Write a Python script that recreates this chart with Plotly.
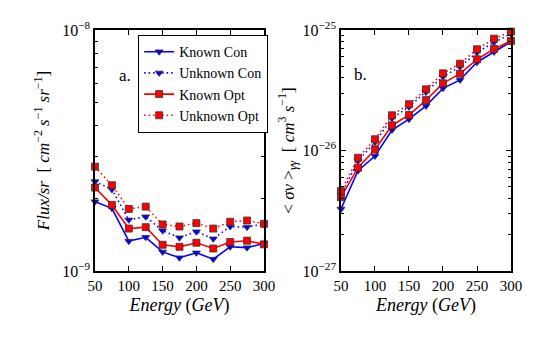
import plotly.graph_objects as go

energy = [50, 75, 100, 125, 150, 175, 200, 225, 250, 275, 300]

# panel a: flux / sr
flux_known_con = [1.94e-9, 1.82e-9, 1.33e-9, 1.38e-9, 1.20e-9, 1.135e-9, 1.19e-9, 1.12e-9, 1.26e-9, 1.25e-9, 1.30e-9]
flux_unknown_con = [2.35e-9, 2.18e-9, 1.63e-9, 1.68e-9, 1.47e-9, 1.375e-9, 1.456e-9, 1.36e-9, 1.53e-9, 1.52e-9, 1.57e-9]
flux_known_opt = [2.22e-9, 1.88e-9, 1.50e-9, 1.52e-9, 1.285e-9, 1.26e-9, 1.31e-9, 1.24e-9, 1.32e-9, 1.336e-9, 1.29e-9]
flux_unknown_opt = [2.71e-9, 2.27e-9, 1.81e-9, 1.85e-9, 1.56e-9, 1.53e-9, 1.58e-9, 1.50e-9, 1.60e-9, 1.62e-9, 1.57e-9]

# panel b: <sigma v>
sv_known_con = [3.27e-27, 6.8e-27, 9.0e-27, 1.48e-26, 1.82e-26, 2.34e-26, 3.28e-26, 3.85e-26, 5.4e-26, 6.57e-26, 8.0e-26]
sv_unknown_con = [4.3e-27, 8.2e-27, 1.17e-26, 1.85e-26, 2.3e-26, 3.05e-26, 4.1e-26, 4.95e-26, 6.5e-26, 7.9e-26, 9.3e-26]
sv_known_opt = [4.1e-27, 7.2e-27, 1.02e-26, 1.62e-26, 1.97e-26, 2.62e-26, 3.61e-26, 4.34e-26, 5.71e-26, 6.96e-26, 8.1e-26]
sv_unknown_opt = [4.6e-27, 8.7e-27, 1.24e-26, 1.96e-26, 2.42e-26, 3.22e-26, 4.37e-26, 5.25e-26, 6.92e-26, 8.47e-26, 9.7e-26]

FONT = "Liberation Serif"
DOT = "1.5px,3px"

styles = [
    ("Known Con", "#0000ff", "solid", "triangle-down"),
    ("Unknown Con", "#0000ff", DOT, "triangle-down"),
    ("Known Opt", "#ff0000", "solid", "square"),
    ("Unknown Opt", "#ff0000", DOT, "square"),
]

fig = go.Figure()

panel_a = [flux_known_con, flux_unknown_con, flux_known_opt, flux_unknown_opt]
panel_b = [sv_known_con, sv_unknown_con, sv_known_opt, sv_unknown_opt]

for (name, color, dash, symbol), ya, yb in zip(styles, panel_a, panel_b):
    for ys, xa, yax, show in [(ya, "x", "y", True), (yb, "x2", "y2", False)]:
        fig.add_trace(go.Scatter(
            x=energy, y=ys, xaxis=xa, yaxis=yax,
            mode="lines+markers", name=name, showlegend=show,
            line=dict(color=color, width=1.6, dash=dash),
            marker=dict(symbol=symbol, size=7, color=color,
                        line=dict(color="#333333", width=0.8)),
            cliponaxis=False,
        ))

def minor_vals(lo, hi):
    vals = []
    for e in range(lo, hi):
        for m in range(2, 10):
            vals.append(m * 10 ** e)
    return vals

xax = dict(
    range=[50, 300], tickvals=[50, 100, 150, 200, 250, 300],
    ticks="inside", ticklen=5, tickcolor="black", mirror="allticks",
    showline=True, linecolor="black", linewidth=1.5, showgrid=False, zeroline=False,
    automargin=False,
    tickfont=dict(family=FONT, size=15, color="black"),
    title=dict(text="<i>Energy</i> (<i>GeV</i>)", font=dict(family=FONT, size=18, color="black"), standoff=6),
)

fig.update_layout(
    template="none",
    width=554, height=342,
    margin=dict(l=0, r=0, t=0, b=0),
    paper_bgcolor="white", plot_bgcolor="white",
    font=dict(family=FONT, color="black"),
    xaxis=dict(domain=[0.1715, 0.4765], anchor="y", **xax),
    xaxis2=dict(domain=[0.6155, 0.9224], anchor="y2", **xax),
    yaxis=dict(
        type="log", range=[-9, -8], anchor="x",
        domain=[0.2076, 0.9123], automargin=False,
        tickvals=[1e-9, 1e-8], ticktext=["10<sup>−9</sup>", "10<sup>−8</sup>"],
        minor=dict(tickmode="array", tickvals=minor_vals(-9, -8), ticks="inside", ticklen=3, tickcolor="black"),
        ticks="inside", ticklen=5, tickcolor="black", mirror="allticks",
        showline=True, linecolor="black", linewidth=1.5, showgrid=False,
        tickfont=dict(family=FONT, size=16, color="black"),
        title=dict(text="<i>Flux/sr</i>  [ <i>cm</i><sup>−2</sup> <i>s</i><sup>−1</sup> <i>sr</i><sup>−1</sup>]",
                   font=dict(family=FONT, size=17, color="black"), standoff=8),
    ),
    yaxis2=dict(
        type="log", range=[-27, -25], anchor="x2",
        domain=[0.2076, 0.9123], automargin=False,
        tickvals=[1e-27, 1e-26, 1e-25], ticktext=["10<sup>−27</sup>", "10<sup>−26</sup>", "10<sup>−25</sup>"],
        minor=dict(tickmode="array", tickvals=minor_vals(-27, -25), ticks="inside", ticklen=3, tickcolor="black"),
        ticks="inside", ticklen=5, tickcolor="black", mirror="allticks",
        showline=True, linecolor="black", linewidth=1.5, showgrid=False,
        tickfont=dict(family=FONT, size=16, color="black"),
        title=dict(text="< <i>σv</i> ><sub><i>γγ</i></sub>  [ <i>cm</i><sup>3</sup> <i>s</i><sup>−1</sup>]",
                   font=dict(family=FONT, size=17, color="black"), standoff=4),
    ),
    legend=dict(
        x=0.249, y=0.898, xanchor="left", yanchor="top",
        bgcolor="white", bordercolor="black", borderwidth=1.2,
        font=dict(family=FONT, size=14, color="black"),
        tracegroupgap=0, itemwidth=30,
    ),
    annotations=[
        dict(text="a.", x=117 / 554, y=1 - 64 / 342, xref="paper", yref="paper",
             showarrow=False, font=dict(family=FONT, size=17, color="black")),
        dict(text="b.", x=360 / 554, y=1 - 63 / 342, xref="paper", yref="paper",
             showarrow=False, font=dict(family=FONT, size=17, color="black")),
    ],
)

# drop the default page margin so the figure sits at the window's corner
fig.write_html("out.html", config={"displayModeBar": False},
               post_script="document.body.style.margin='0';")
